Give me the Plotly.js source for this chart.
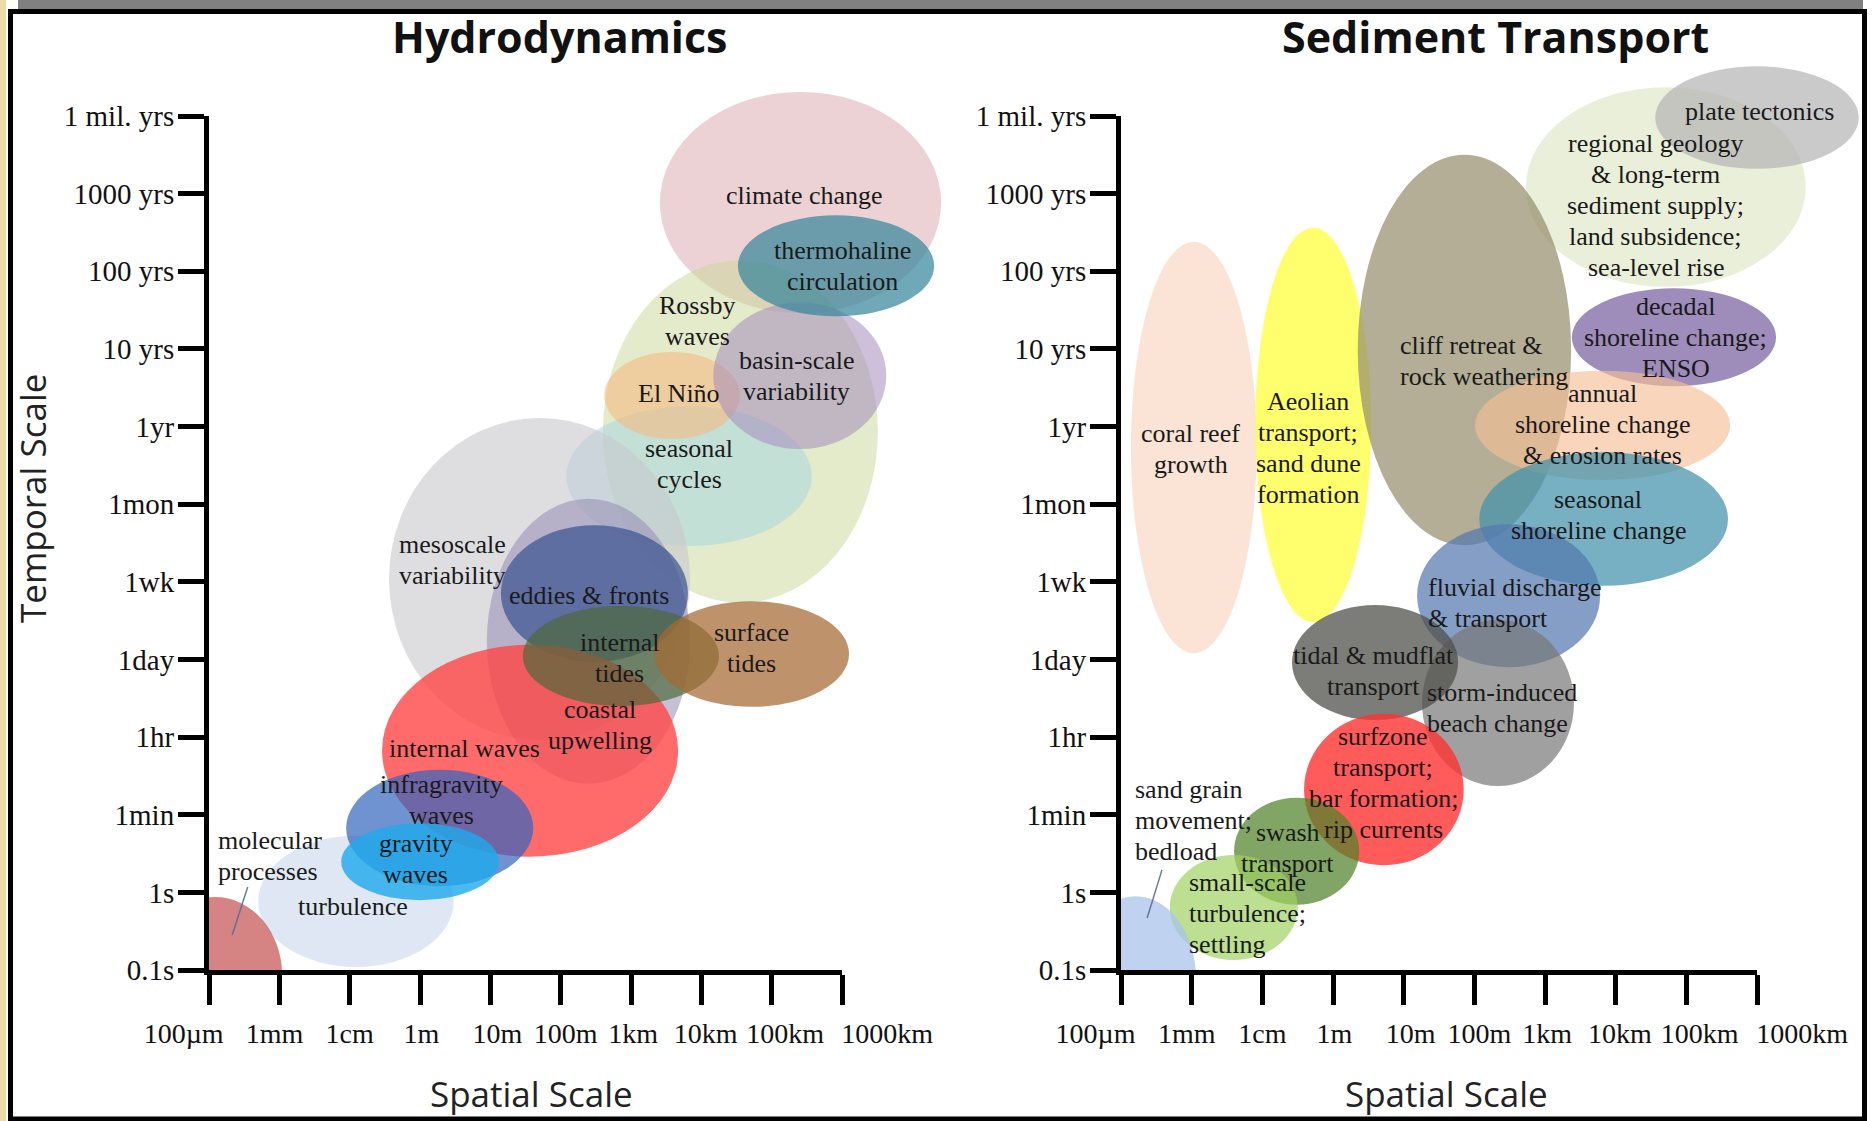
<!DOCTYPE html>
<html><head><meta charset="utf-8">
<script src="https://cdn.plot.ly/plotly-3.0.1.min.js"></script>
<style>html,body{margin:0;padding:0;background:#fff;} #chart{width:1872px;height:1121px;}</style>
</head><body><div id="chart"></div>
<script>
// ---------------- tick labels ----------------
const spatialTicks  = ['100µm','1mm','1cm','1m','10m','100m','1km','10km','100km','1000km'];
const temporalTicks = ['0.1s','1s','1min','1hr','1day','1wk','1mon','1yr','10 yrs','100 yrs','1000 yrs','1 mil. yrs'];
const panelTitles = ['Hydrodynamics','Sediment Transport'];
const spatialTitle = 'Spatial Scale';
const temporalTitle = 'Temporal Scale';

// ---------------- Hydrodynamics (extents in tick-index units) ----------------
const hydroLabels = ['climate change','Rossby\nwaves','seasonal\ncycles','El Niño','basin-scale\nvariability',
  'thermohaline\ncirculation','mesoscale\nvariability','coastal\nupwelling','eddies & fronts','internal waves',
  'internal\ntides','surface\ntides','turbulence','infragravity\nwaves','gravity\nwaves','molecular\nprocesses'];
const hydroSpatialLo  = [6.41, 5.60, 5.08, 5.62, 7.17, 7.52, 2.56, 3.95, 4.15, 2.46, 4.46, 6.33, 0.70, 1.95, 1.88, -0.87];
const hydroSpatialHi  = [10.41, 9.51, 8.57, 7.55, 9.63, 10.31, 6.84, 6.84, 6.81, 6.67, 7.25, 9.10, 3.48, 4.61, 4.12, 1.04];
const hydroTemporalLo = [8.46, 4.73, 5.46, 6.84, 6.71, 8.42, 2.96, 2.40, 3.97, 1.46, 3.40, 3.39, 0.04, 1.08, 0.90, -1.07];
const hydroTemporalHi = [11.31, 9.14, 7.26, 7.96, 8.60, 9.72, 7.11, 6.07, 5.73, 4.19, 4.69, 4.75, 1.73, 2.58, 1.89, 0.94];
const hydroLabelX     = [8.47, 6.95, 6.83, 6.68, 8.36, 9.01, 2.67, 5.56, 5.40, 3.63, 5.84, 7.72, 2.05, 3.31, 2.94, 0.10];
const hydroLabelY     = [9.97, 8.36, 6.52, 7.43, 7.65, 9.07, 5.28, 3.16, 4.82, 2.85, 4.02, 4.15, 0.82, 2.19, 1.43, 1.47];
const hydroLeaderX    = [0.55, 0.33];
const hydroLeaderY    = [1.07, 0.45];
// styles
const hydroColors = ['rgba(225,180,185,0.6)','rgba(200,215,150,0.5)','rgba(170,215,225,0.55)','rgba(245,185,130,0.6)',
  'rgba(165,140,190,0.55)','rgba(55,135,155,0.72)','rgba(200,200,205,0.6)','rgba(150,140,180,0.55)',
  'rgba(60,85,145,0.72)','rgba(255,70,70,0.8)','rgba(75,105,55,0.68)','rgba(165,105,50,0.72)',
  'rgba(200,215,235,0.6)','rgba(50,100,190,0.7)','rgba(30,170,235,0.8)','rgba(200,90,90,0.75)'];
const hydroAlign = ['c','c','c','c','c','c','l','c','c','c','c','c','c','c','c','l'];

// ---------------- Sediment Transport ----------------
const sedLabels = ['regional geology\n& long-term\nsediment supply;\nland subsidence;\nsea-level rise','plate tectonics',
  'coral reef\ngrowth','Aeolian\ntransport;\nsand dune\nformation','cliff retreat &\nrock weathering',
  'decadal\nshoreline change;\nENSO','annual\nshoreline change\n& erosion rates','seasonal\nshoreline change',
  'fluvial discharge\n& transport','storm-induced\nbeach change','tidal & mudflat\ntransport',
  'surfzone\ntransport;\nbar formation;\nrip currents','swash\ntransport','small-scale\nturbulence;\nsettling',
  'sand grain\nmovement;\nbedload'];
const sedSpatialLo  = [5.73, 7.56, 0.14, 1.90, 3.35, 6.38, 5.01, 5.07, 4.19, 4.26, 2.42, 2.59, 1.60, 0.69, -0.65];
const sedSpatialHi  = [9.69, 10.44, 1.92, 3.54, 6.37, 9.27, 8.62, 8.59, 6.78, 6.41, 4.77, 4.85, 3.37, 2.50, 1.06];
const sedTemporalLo = [8.80, 10.32, 4.08, 4.48, 5.47, 7.52, 6.31, 4.95, 3.90, 2.37, 3.22, 1.35, 0.84, 0.13, -1.16];
const sedTemporalHi = [11.37, 11.64, 9.38, 9.56, 10.50, 8.78, 7.72, 6.67, 5.74, 4.51, 4.70, 3.30, 2.22, 1.48, 0.95];
const sedLabelX     = [7.57, 9.03, 0.99, 2.65, 3.92, 7.85, 6.81, 6.75, 4.32, 4.30, 3.58, 3.71, 2.36, 0.93, 0.17];
const sedLabelY     = [9.85, 11.06, 6.71, 6.72, 7.84, 8.15, 7.03, 5.86, 4.73, 3.37, 3.85, 2.41, 1.57, 0.73, 1.93];
const sedLeaderX    = [0.58, 0.37];
const sedLeaderY    = [1.29, 0.67];
const sedColors = ['rgba(215,225,185,0.55)','rgba(180,180,180,0.7)','rgba(248,210,185,0.6)','rgba(255,255,60,0.75)',
  'rgba(150,143,108,0.72)','rgba(120,95,160,0.72)','rgba(245,190,150,0.65)','rgba(65,145,170,0.72)',
  'rgba(85,120,175,0.72)','rgba(120,120,120,0.7)','rgba(80,80,75,0.75)','rgba(255,50,50,0.8)',
  'rgba(80,130,40,0.72)','rgba(160,210,100,0.7)','rgba(170,195,235,0.75)'];
const sedAlign = ['c','c','c','c','l','c','c','c','l','l','c','c','c','l','l'];

// ---------------- layout geometry ----------------
const W = 1872, H = 1121;
const fx = p => p / W, fy = p => 1 - p / H;
const serif = 'Liberation Serif, "Times New Roman", serif';
const sans = '"Open Sans", "Noto Sans", sans-serif';
const yBot = 970, yTop = 116;
const yUnit = (yBot - yTop) / (temporalTicks.length - 1);
// small horizontal nudges of the spatial tick labels (in tick units), as in the original figure
const spatialLabelShift = [-0.36, -0.07, 0, 0.02, 0.1, 0.07, 0.03, 0.06, 0.19, 0.64];
const panels = [
  {x0: 209, x1: 842, dataEnd: 1000, ax: ['', '2', '3']},
  {x0: 1121, x1: 1757, dataEnd: 1872, ax: ['4', '5', '6']}
];
const sIdx = spatialTicks.map((_, i) => i);
const tIdx = temporalTicks.map((_, i) => i);
const nS = spatialTicks.length;

const layout = {
  width: W, height: H, margin: {l: 0, r: 0, t: 0, b: 0},
  paper_bgcolor: '#ffffff', plot_bgcolor: 'rgba(0,0,0,0)',
  showlegend: false, hovermode: false,
  shapes: [], annotations: []
};
const traces = [];
panels.forEach(p => {
  const [d, v, l] = p.ax;
  const xUnit = (p.x1 - p.x0) / (nS - 1);
  // hidden data axes
  layout['xaxis' + d] = {domain: [fx(p.x0), fx(p.dataEnd)], range: [0, (p.dataEnd - p.x0) / xUnit],
    anchor: 'y' + d, visible: false, fixedrange: true};
  layout['yaxis' + d] = {domain: [fy(yBot), 1], range: [0, yBot / yUnit],
    anchor: 'x' + d, visible: false, fixedrange: true};
  // visible axis lines + ticks
  layout['xaxis' + v] = {domain: [fx(p.x0), fx(p.x1)], range: [0, nS - 1], anchor: 'y' + v,
    showline: true, linewidth: 5, linecolor: '#000', ticks: 'outside', ticklen: 30, tickwidth: 5, tickcolor: '#000',
    tickvals: sIdx, showticklabels: false, showgrid: false, zeroline: false, fixedrange: true};
  layout['yaxis' + v] = {domain: [fy(yBot), fy(yTop)], range: [0, temporalTicks.length - 1], anchor: 'x' + v,
    showline: true, linewidth: 5, linecolor: '#000', ticks: 'outside', ticklen: 26, tickwidth: 5, tickcolor: '#000',
    tickvals: tIdx, ticktext: temporalTicks, tickfont: {family: serif, size: 29, color: '#111'},
    ticklabelstandoff: -2, showgrid: false, zeroline: false, fixedrange: true};
  // spatial tick-label axis (same scale, wider domain)
  layout['xaxis' + l] = {domain: [fx(p.x0 - xUnit), fx(p.x1 + xUnit)], range: [-1, nS], anchor: 'y' + v,
    showline: false, ticks: '', tickvals: sIdx.map(i => i + spatialLabelShift[i]), ticktext: spatialTicks,
    tickangle: 0, ticklabelstandoff: 44,
    tickfont: {family: serif, size: 28, color: '#111'}, showgrid: false, zeroline: false, fixedrange: true};
  traces.push({type: 'scatter', mode: 'markers', xaxis: 'x' + v, yaxis: 'y' + v, x: sIdx, y: sIdx.map(() => 0),
    marker: {opacity: 0}, hoverinfo: 'skip'});
  traces.push({type: 'scatter', mode: 'markers', xaxis: 'x' + l, yaxis: 'y' + v, x: sIdx, y: sIdx.map(() => 0),
    marker: {opacity: 0}, hoverinfo: 'skip'});
});

function addPanel(dsuf, labels, lo, hi, tlo, thi, lx, ly, colors, align, leadX, leadY) {
  const xr = 'x' + dsuf, yr = 'y' + dsuf;
  traces.unshift({type: 'scatter', mode: 'markers', xaxis: xr, yaxis: yr, x: lx, y: ly,
    marker: {opacity: 0}, hoverinfo: 'skip'});
  lo.forEach((v, k) => {
    layout.shapes.push({type: 'circle', xref: xr, yref: yr, x0: v, x1: hi[k], y0: tlo[k], y1: thi[k],
      fillcolor: colors[k], line: {width: 0}, layer: 'below'});
  });
  layout.shapes.push({type: 'line', xref: xr, yref: yr, x0: leadX[0], x1: leadX[1], y0: leadY[0], y1: leadY[1],
    line: {color: 'rgba(90,110,150,0.9)', width: 1.5}, layer: 'above'});
  labels.forEach((t, k) => {
    const lines = t.split('\n'), n = lines.length;
    lines.forEach((ln, m) => {
      layout.annotations.push({xref: xr, yref: yr, x: lx[k], y: ly[k], text: ln, showarrow: false,
        xanchor: align[k] === 'l' ? 'left' : 'center', yanchor: 'middle', yshift: ((n - 1) / 2 - m) * 31,
        font: {family: serif, size: 26, color: '#1a1a1a'}});
    });
  });
}
addPanel('', hydroLabels, hydroSpatialLo, hydroSpatialHi, hydroTemporalLo, hydroTemporalHi,
  hydroLabelX, hydroLabelY, hydroColors, hydroAlign, hydroLeaderX, hydroLeaderY);
addPanel('4', sedLabels, sedSpatialLo, sedSpatialHi, sedTemporalLo, sedTemporalHi,
  sedLabelX, sedLabelY, sedColors, sedAlign, sedLeaderX, sedLeaderY);

// titles
[[559, panelTitles[0]], [1495, panelTitles[1]]].forEach(([x, t]) => {
  layout.annotations.push({xref: 'paper', yref: 'paper', x: fx(x), y: fy(37), text: t, showarrow: false,
    xanchor: 'center', yanchor: 'middle', font: {family: sans, size: 43, weight: 700, color: '#111'}});
});
[[531], [1446]].forEach(([x]) => {
  layout.annotations.push({xref: 'paper', yref: 'paper', x: fx(x), y: fy(1093), text: spatialTitle, showarrow: false,
    xanchor: 'center', yanchor: 'middle', font: {family: sans, size: 35, color: '#222'}});
});
layout.annotations.push({xref: 'paper', yref: 'paper', x: fx(32), y: fy(499), text: temporalTitle, showarrow: false,
  textangle: -90, xanchor: 'center', yanchor: 'middle', font: {family: sans, size: 35, color: '#222'}});

// frame decorations
layout.shapes.push({type: 'rect', xref: 'paper', yref: 'paper', x0: 0, x1: fx(6), y0: 0, y1: 1,
  fillcolor: '#ecd9a8', line: {width: 0}, layer: 'above'});
layout.shapes.push({type: 'rect', xref: 'paper', yref: 'paper', x0: fx(18), x1: fx(1863), y0: fy(9), y1: 1,
  fillcolor: '#808080', line: {width: 0}, layer: 'above'});
layout.shapes.push({type: 'rect', xref: 'paper', yref: 'paper', x0: fx(10.5), x1: fx(1864.5), y0: fy(1119), y1: fy(11.5),
  fillcolor: 'rgba(0,0,0,0)', line: {width: 5, color: '#000'}, layer: 'above'});

Plotly.newPlot('chart', traces, layout, {displayModeBar: false, staticPlot: true});
</script>
</body></html>
